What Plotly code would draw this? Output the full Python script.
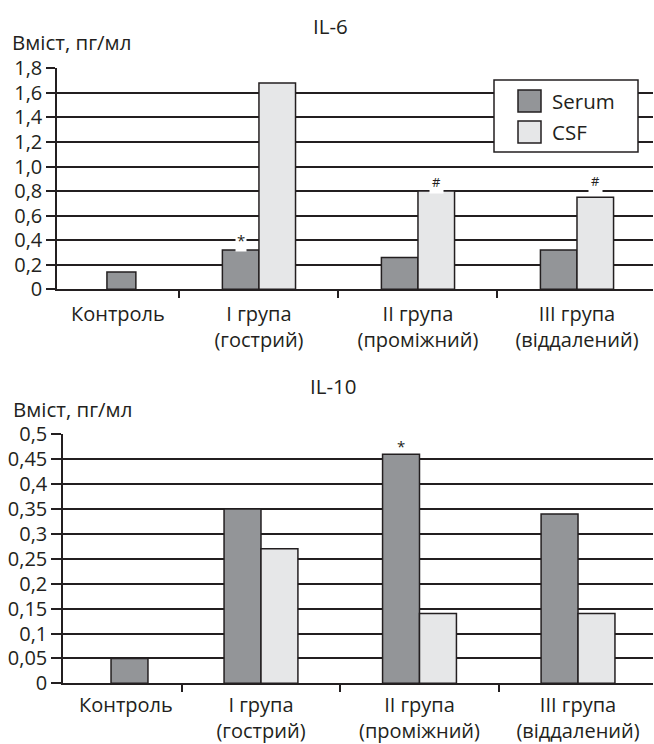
import plotly.graph_objects as go

categories = ["Контроль", "I група<br>(гострий)", "II група<br>(проміжний)", "III група<br>(віддалений)"]
series_names = ["Serum", "CSF"]
il6_serum = [0.14, 0.32, 0.26, 0.32]
il6_csf = [None, 1.68, 0.80, 0.75]
il10_serum = [0.05, 0.35, 0.46, 0.34]
il10_csf = [None, 0.27, 0.14, 0.14]
il6_tickvals = [0, 0.2, 0.4, 0.6, 0.8, 1.0, 1.2, 1.4, 1.6, 1.8]
il6_ticktext = ["0", "0,2", "0,4", "0,6", "0,8", "1,0", "1,2", "1,4", "1,6", "1,8"]
il10_tickvals = [0, 0.05, 0.1, 0.15, 0.2, 0.25, 0.3, 0.35, 0.4, 0.45, 0.5]
il10_ticktext = ["0", "0,05", "0,1", "0,15", "0,2", "0,25", "0,3", "0,35", "0,4", "0,45", "0,5"]
titles = ["IL-6", "IL-10"]
y_title = "Вміст, пг/мл"

DARK = "#231f20"
SERUM_C = "#939598"
CSF_C = "#e6e7e8"
FONT = "Open Sans"
FS = 20.5
XFS = 20
TFS = 20
LW = 1.5
W, H = 654, 744

x = list(range(len(categories)))

fig = go.Figure()

# IL-6 (top)
fig.add_trace(go.Bar(x=x, y=il6_serum, name=series_names[0], marker=dict(color=SERUM_C, line=dict(color=DARK, width=LW)),
                     offset=[0.044, -0.23, -0.23, -0.23], width=[0.182, 0.23, 0.23, 0.23],
                     xaxis="x", yaxis="y", showlegend=False))
fig.add_trace(go.Bar(x=x, y=il6_csf, name=series_names[1], marker=dict(color=CSF_C, line=dict(color=DARK, width=LW)),
                     offset=0, width=0.23, xaxis="x", yaxis="y", showlegend=False))
# IL-10 (bottom)
fig.add_trace(go.Bar(x=x, y=il10_serum, name=series_names[0], marker=dict(color=SERUM_C, line=dict(color=DARK, width=LW)),
                     offset=[0.054, -0.233, -0.233, -0.233], width=0.233,
                     xaxis="x2", yaxis="y2", showlegend=False))
fig.add_trace(go.Bar(x=x, y=il10_csf, name=series_names[1], marker=dict(color=CSF_C, line=dict(color=DARK, width=LW)),
                     offset=0, width=0.233, xaxis="x2", yaxis="y2", showlegend=False))

def xaxis_common(domain, rng, anchor, labelpos, standoff):
    return dict(domain=domain, range=rng, anchor=anchor, showgrid=False, zeroline=False,
                showline=True, linecolor=DARK, linewidth=LW, automargin=False,
                tickmode="array", tickvals=labelpos, ticktext=categories, ticks="",
                ticklabelstandoff=standoff,
                tickfont=dict(family=FONT, size=XFS, color=DARK),
                minor=dict(tickmode="array", tickvals=[0.5, 1.5, 2.5], ticks="outside", ticklen=7,
                           tickwidth=LW, tickcolor=DARK, showgrid=False),
                fixedrange=True)

def yaxis_common(domain, rng, anchor, tv, tt, ticklen):
    return dict(domain=domain, range=rng, anchor=anchor, showgrid=True, gridcolor=DARK, gridwidth=LW,
                zeroline=False, showline=True, linecolor=DARK, linewidth=LW, automargin=False,
                tickmode="array", tickvals=tv, ticktext=tt, ticks="outside", ticklen=ticklen,
                tickwidth=LW, tickcolor=DARK,
                tickfont=dict(family=FONT, size=TFS, color=DARK), fixedrange=True)

def px(v):
    return v / W

def py(v):
    return (H - v) / H

shapes = [
    dict(type="rect", xref="paper", yref="paper", x0=px(494), x1=px(638), y0=py(152), y1=py(80),
         line=dict(color=DARK, width=LW), fillcolor="white", layer="above"),
    dict(type="rect", xref="paper", yref="paper", x0=px(518), x1=px(541), y0=py(112), y1=py(90),
         line=dict(color=DARK, width=LW), fillcolor=SERUM_C, layer="above"),
    dict(type="rect", xref="paper", yref="paper", x0=px(518), x1=px(541), y0=py(143), y1=py(121),
         line=dict(color=DARK, width=LW), fillcolor=CSF_C, layer="above"),
]

fig.update_layout(
    width=W, height=H,
    margin=dict(l=0, r=0, t=0, b=0, autoexpand=False),
    paper_bgcolor="white", plot_bgcolor="white",
    barmode="overlay",
    showlegend=False,
    font=dict(family=FONT, size=FS, color=DARK),
    xaxis=xaxis_common([57 / W, 653 / W], [-0.27, 3.478], "y", [0.113, 1, 2, 3], 6),
    yaxis=yaxis_common([py(289.3), py(68.3)], [0, 1.8], "x", il6_tickvals, il6_ticktext, 9),
    xaxis2=xaxis_common([63 / W, 653 / W], [-0.249, 3.473], "y2", [0.148, 1, 2, 3], 3),
    yaxis2=yaxis_common([py(683.3), py(434.3)], [0, 0.5], "x2", il10_tickvals, il10_ticktext, 10),
    shapes=shapes,
    annotations=[
        dict(text=titles[0], xref="paper", yref="paper", x=px(330), y=py(26),
             showarrow=False, xanchor="center", yanchor="middle", font=dict(size=FS)),
        dict(text=titles[1], xref="paper", yref="paper", x=px(333), y=py(386),
             showarrow=False, xanchor="center", yanchor="middle", font=dict(size=FS)),
        dict(text=y_title, xref="paper", yref="paper", x=px(10), y=py(42),
             showarrow=False, xanchor="left", yanchor="middle", font=dict(size=FS)),
        dict(text=y_title, xref="paper", yref="paper", x=px(11), y=py(409),
             showarrow=False, xanchor="left", yanchor="middle", font=dict(size=FS)),
        dict(text=series_names[0], xref="paper", yref="paper", x=px(550), y=py(101),
             showarrow=False, xanchor="left", yanchor="middle", font=dict(size=FS)),
        dict(text=series_names[1], xref="paper", yref="paper", x=px(550), y=py(132),
             showarrow=False, xanchor="left", yanchor="middle", font=dict(size=FS)),
        dict(text="*", xref="x", yref="y", x=1 - 0.115, y=0.40, showarrow=False,
             bgcolor="white", font=dict(size=15), borderpad=1),
        dict(text="#", xref="x", yref="y", x=2 + 0.115, y=0.875, showarrow=False,
             bgcolor="white", font=dict(size=13), borderpad=2),
        dict(text="#", xref="x", yref="y", x=3 + 0.115, y=0.88, showarrow=False,
             bgcolor="white", font=dict(size=13), borderpad=2),
        dict(text="*", xref="x2", yref="y2", x=2 - 0.1165, y=0.4765, showarrow=False,
             font=dict(size=15)),
    ],
)

fig.write_html("out.html")
